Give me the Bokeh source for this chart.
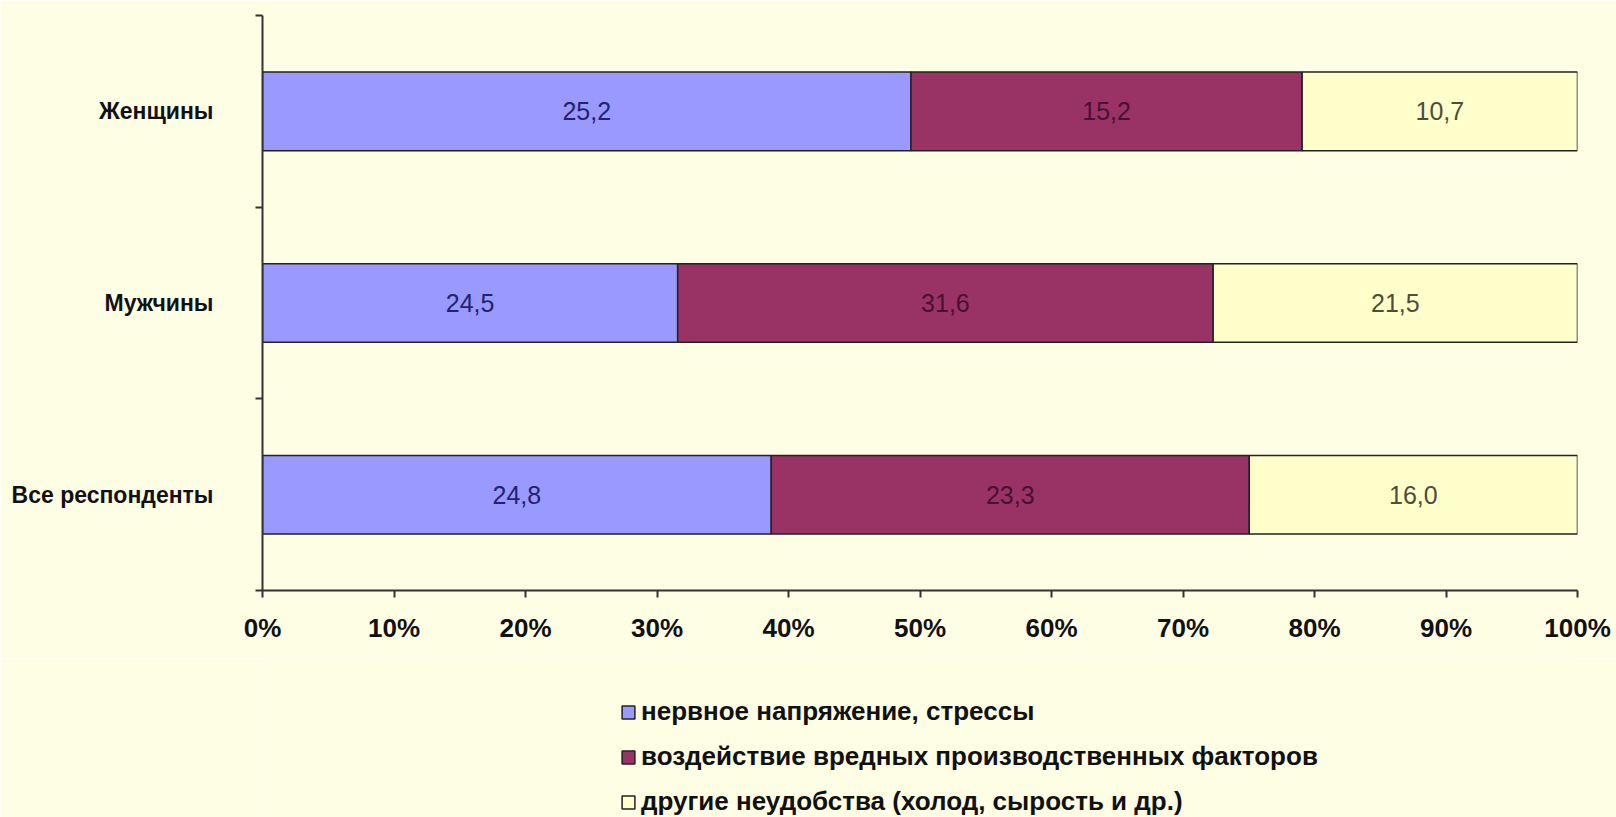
import numpy as np
from bokeh.plotting import figure
from bokeh.layouts import column
from bokeh.models import (Range1d, FixedTicker, NumeralTickFormatter, Legend, LegendItem,
                          ColumnDataSource)
from bokeh.core.properties import value
from bokeh.embed import file_html
from bokeh.resources import INLINE

# ---- data ----
groups = ["Все респонденты", "Мужчины", "Женщины"]
series_names = ["нервное напряжение, стрессы",
                "воздействие вредных производственных факторов",
                "другие неудобства (холод, сырость и др.)"]
stress = [24.8, 24.5, 25.2]
harmful = [23.3, 31.6, 15.2]
other = [16.0, 21.5, 10.7]
x_ticks = [0, 0.1, 0.2, 0.3, 0.4, 0.5, 0.6, 0.7, 0.8, 0.9, 1.0]

fill_colors = ["#9999FF", "#993366", "#FFFFCC"]
label_colors = ["#23236b", "#4a1030", "#4d4d38"]
BG = "#FEFEE4"
FONT = "Liberation Sans"

vals = np.array([stress, harmful, other], dtype=float)
fracs = vals / vals.sum(axis=0)
rights = np.cumsum(fracs, axis=0)
lefts = rights - fracs
ypos = np.arange(len(groups)) + 0.5

p = figure(width=1616, height=658, output_backend="svg", toolbar_location=None,
           x_range=Range1d(0, 1), y_range=Range1d(0, 3),
           background_fill_color=BG, border_fill_color=BG,
           min_border_left=262, min_border_right=39, min_border_top=15, min_border_bottom=68)
p.outline_line_color = None
p.xgrid.visible = False
p.ygrid.visible = False

# legend figure below: its swatch renderers carry no drawable coordinates
p2 = figure(width=1616, height=159, output_backend="svg", toolbar_location=None,
            x_range=Range1d(0, 1), y_range=Range1d(0, 3),
            x_axis_location=None, y_axis_location=None,
            background_fill_color=BG, border_fill_color=BG, min_border=0)
p2.outline_line_color = None
p2.xgrid.visible = False
p2.ygrid.visible = False
swatch_src = ColumnDataSource(dict(y=np.array([np.nan]), left=np.array([np.nan]),
                                   right=np.array([np.nan])))

items = []
for i in range(3):
    src = ColumnDataSource(dict(y=ypos, left=lefts[i], right=rights[i],
                                mid=(lefts[i] + rights[i]) / 2,
                                lab=[f"{v:.1f}".replace(".", ",") for v in vals[i]]))
    p.hbar(y="y", left="left", right="right", height=0.41, source=src,
           fill_color=fill_colors[i], line_color="#222222", line_width=1.5)
    p.text(x="mid", y="y", text="lab", source=src, text_align="center",
           text_baseline="middle", text_font=value(FONT),
           text_font_size="25px", text_color=label_colors[i])
    r2 = p2.hbar(y="y", left="left", right="right", height=0.41, source=swatch_src,
                 fill_color=fill_colors[i], line_color="#222222", line_width=1.5)
    items.append(LegendItem(label=series_names[i], renderers=[r2], index=0))

# x axis
xa = p.xaxis[0]
xa.ticker = FixedTicker(ticks=x_ticks, minor_ticks=[])
xa.formatter = NumeralTickFormatter(format="0%")
xa.major_label_text_font = FONT
xa.major_label_text_font_style = "bold"
xa.major_label_text_font_size = "26px"
xa.major_label_text_color = "#111111"
xa.major_tick_in = 0
xa.major_tick_out = 7
xa.major_label_standoff = 15
xa.axis_line_width = 2
xa.axis_line_color = "#333333"
xa.major_tick_line_width = 2
xa.major_tick_line_color = "#333333"

# y axis
ya = p.yaxis[0]
ya.ticker = FixedTicker(ticks=list(ypos), minor_ticks=[0, 1, 2, 3])
ya.major_label_overrides = {float(y): g for y, g in zip(ypos, groups)}
ya.major_label_text_font = FONT
ya.major_label_text_font_style = "bold"
ya.major_label_text_font_size = "23px"
ya.major_label_text_color = "#111111"
ya.major_tick_in = 0
ya.major_tick_out = 0
ya.minor_tick_in = 0
ya.minor_tick_out = 7
ya.minor_tick_line_width = 2
ya.minor_tick_line_color = "#333333"
ya.major_label_standoff = 42
ya.axis_line_width = 2
ya.axis_line_color = "#333333"

legend = Legend(items=items, location=(358, 0), orientation="vertical",
                background_fill_alpha=0, border_line_color=None,
                label_text_font=FONT, label_text_font_style="bold",
                label_text_font_size="26px", label_text_color="#111111",
                glyph_width=16, glyph_height=16, label_height=24, spacing=14,
                padding=0, margin=0, label_standoff=5)
p2.add_layout(legend, "center")

layout = column(p, p2, spacing=0)
open("out.html", "w").write(file_html(layout, INLINE))
